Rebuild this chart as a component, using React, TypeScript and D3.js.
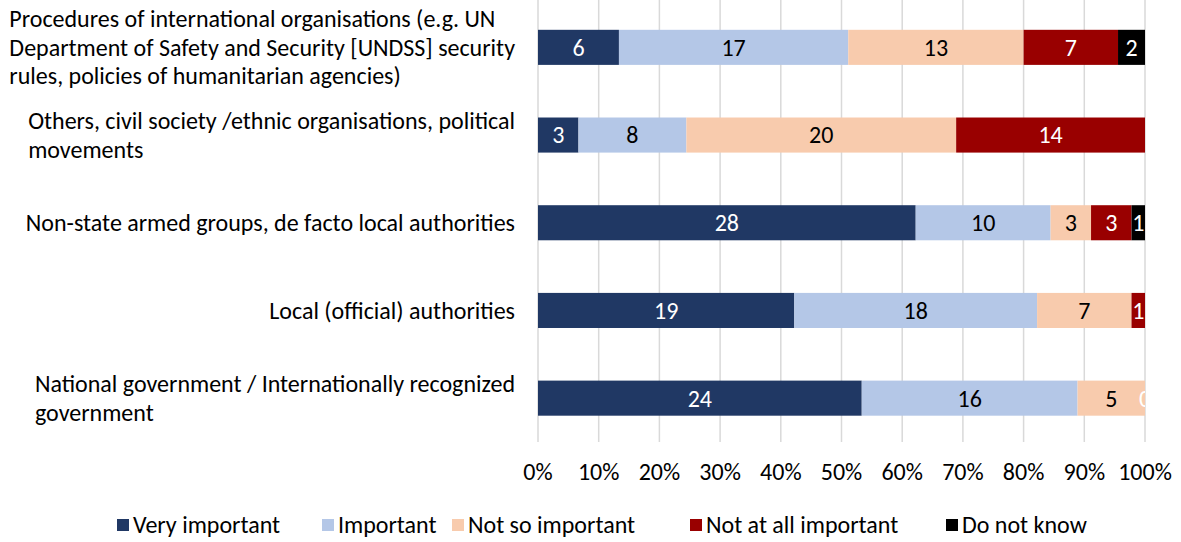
import React, { useEffect, useRef } from "react";
import * as d3 from "d3";

const categories = [
  ["Procedures of international organisations (e.g. UN", "Department of Safety and Security [UNDSS] security", "rules, policies of humanitarian agencies)"],
  ["Others, civil society /ethnic organisations, political", "movements"],
  ["Non-state armed groups, de facto local authorities"],
  ["Local (official) authorities"],
  ["National government / Internationally recognized", "government"],
];

const seriesNames = ["Very important", "Important", "Not so important", "Not at all important", "Do not know"];
const seriesColors = ["#203864", "#B4C7E7", "#F8CBAD", "#990000", "#000000"];
const labelColors = ["#ffffff", "#000000", "#000000", "#ffffff", "#ffffff"];

const veryImportant = [6, 3, 28, 19, 24];
const important = [17, 8, 10, 18, 16];
const notSoImportant = [13, 20, 3, 7, 5];
const notAtAllImportant = [7, 14, 3, 1, 0];
const doNotKnow: (number | null)[] = [2, null, 1, null, null];

const tickValues = [0, 0.1, 0.2, 0.3, 0.4, 0.5, 0.6, 0.7, 0.8, 0.9, 1];

const FONT = "Carlito, Calibri, Lato, sans-serif";
const FS = 24;

export default function App() {
  const ref = useRef<SVGSVGElement>(null);
  useEffect(() => {
    document.body.style.margin = "0";
    const svg = d3.select(ref.current);
    svg.selectAll("*").remove();
    const left = 538, right = 1145, top = 3.5, bottom = 442;
    const x = d3.scaleLinear().domain([0, 1]).range([left, right]);
    const y = d3.scaleBand<number>().domain(d3.range(categories.length)).range([top, bottom]).paddingInner(0.6).paddingOuter(0.3);

    svg.append("defs").append("clipPath").attr("id", "plotclip")
      .append("rect").attr("x", left).attr("y", 0).attr("width", right - left).attr("height", bottom);

    svg.append("g").selectAll("line").data(tickValues).join("line")
      .attr("x1", d => x(d)).attr("x2", d => x(d))
      .attr("y1", 0).attr("y2", bottom)
      .attr("stroke", "#D9D9D9").attr("stroke-width", 1.5);

    const series = [veryImportant, important, notSoImportant, notAtAllImportant, doNotKnow];
    const rows = categories.map((c, i) => {
      const vals = series.map(s => s[i]);
      const total = d3.sum(vals.map(v => v ?? 0));
      let acc = 0;
      return vals.map((v, k) => {
        const x0 = acc / total;
        acc += v ?? 0;
        return { k, v, x0, x1: acc / total, row: i };
      });
    });
    const segs = rows.flat();

    svg.append("g").selectAll("rect").data(segs.filter(s => s.v != null && s.v > 0)).join("rect")
      .attr("x", d => x(d.x0)).attr("width", d => x(d.x1) - x(d.x0))
      .attr("y", d => y(d.row)!).attr("height", y.bandwidth())
      .attr("fill", d => seriesColors[d.k]);

    svg.append("g").attr("clip-path", "url(#plotclip)")
      .selectAll("text").data(segs.filter(s => s.v != null)).join("text")
      .attr("x", d => (x(d.x0) + x(d.x1)) / 2)
      .attr("y", d => y(d.row)! + y.bandwidth() / 2)
      .attr("dy", "0.35em")
      .attr("text-anchor", "middle")
      .attr("font-family", FONT).attr("font-size", FS)
      .attr("fill", d => labelColors[d.k])
      .text(d => String(d.v));

    const lineH = 28.5;
    categories.forEach((lines, i) => {
      const cy = y(i)! + y.bandwidth() / 2;
      const tg = svg.append("g");
      const texts = lines.map((l, j) => tg.append("text")
        .attr("y", cy + (j - (lines.length - 1) / 2) * lineH)
        .attr("dy", "0.35em")
        .attr("font-family", FONT).attr("font-size", FS).attr("fill", "#000")
        .text(l));
      const maxW = d3.max(texts.map(t => (t.node() as SVGTextElement).getComputedTextLength()))!;
      texts.forEach(t => t.attr("x", 515 - maxW));
    });

    svg.append("g").selectAll("text").data(tickValues).join("text")
      .attr("x", d => x(d)).attr("y", 472).attr("dy", "0.35em")
      .attr("text-anchor", "middle")
      .attr("font-family", FONT).attr("font-size", FS).attr("fill", "#000")
      .text(d => d3.format(".0%")(d));

    const legendX = [117, 322, 452, 690, 946];
    const lg = svg.append("g");
    seriesNames.forEach((n, k) => {
      lg.append("rect").attr("x", legendX[k]).attr("y", 519).attr("width", 12).attr("height", 12).attr("fill", seriesColors[k]);
      lg.append("text").attr("x", legendX[k] + 16).attr("y", 525).attr("dy", "0.35em")
        .attr("font-family", FONT).attr("font-size", FS).attr("fill", "#000").text(n);
    });
  }, []);
  return <svg ref={ref} width={1181} height={542} style={{ display: "block" }} />;
}
